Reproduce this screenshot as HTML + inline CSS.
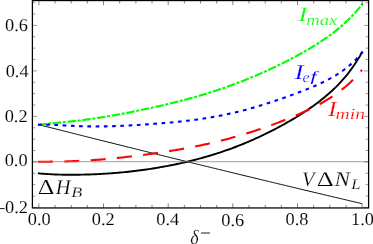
<!DOCTYPE html>
<html><head><meta charset="utf-8"><style>
html,body{margin:0;padding:0;background:#fff;overflow:hidden;}
svg{display:block;will-change:transform;}
text{font-family:"Liberation Serif",serif;text-rendering:geometricPrecision;}
</style></head><body>
<svg width="373" height="244" viewBox="0 0 373 244">
<rect width="373" height="244" fill="#fff"/>
<path d="M37.90,173.31 L38.90,173.40 L40.93,173.59 L42.96,173.76 L45.00,173.92 L47.03,174.05 L49.06,174.17 L51.09,174.28 L53.12,174.38 L55.16,174.46 L57.19,174.53 L59.22,174.59 L61.25,174.64 L63.28,174.68 L65.32,174.71 L67.35,174.73 L69.38,174.75 L71.41,174.75 L73.45,174.75 L75.48,174.74 L77.51,174.72 L79.54,174.69 L81.57,174.66 L83.61,174.62 L85.64,174.57 L87.67,174.51 L89.70,174.44 L91.73,174.37 L93.77,174.29 L95.80,174.20 L97.83,174.11 L99.86,174.01 L101.89,173.90 L103.93,173.78 L105.96,173.65 L107.99,173.52 L110.02,173.38 L112.05,173.23 L114.09,173.07 L116.12,172.91 L118.15,172.73 L120.18,172.55 L122.22,172.36 L124.25,172.17 L126.28,171.96 L128.31,171.75 L130.34,171.52 L132.38,171.29 L134.41,171.06 L136.44,170.81 L138.47,170.55 L140.50,170.29 L142.54,170.02 L144.57,169.74 L146.60,169.45 L148.63,169.15 L150.66,168.84 L152.70,168.53 L154.73,168.20 L156.76,167.87 L158.79,167.52 L160.82,167.17 L162.86,166.81 L164.89,166.44 L166.92,166.06 L168.95,165.68 L170.98,165.28 L173.02,164.87 L175.05,164.45 L177.08,164.03 L179.11,163.59 L181.15,163.14 L183.18,162.69 L185.21,162.22 L187.24,161.74 L189.27,161.25 L191.31,160.75 L193.34,160.24 L195.37,159.72 L197.40,159.19 L199.43,158.64 L201.47,158.09 L203.50,157.52 L205.53,156.94 L207.56,156.35 L209.59,155.75 L211.63,155.13 L213.66,154.51 L215.69,153.87 L217.72,153.21 L219.75,152.55 L221.79,151.87 L223.82,151.18 L225.85,150.47 L227.88,149.75 L229.92,149.02 L231.95,148.27 L233.98,147.51 L236.01,146.74 L238.04,145.95 L240.08,145.15 L242.11,144.33 L244.14,143.50 L246.17,142.66 L248.20,141.80 L250.24,140.93 L252.27,140.04 L254.30,139.14 L256.33,138.23 L258.36,137.30 L260.40,136.35 L262.43,135.39 L264.46,134.42 L266.49,133.43 L268.52,132.43 L270.56,131.41 L272.59,130.38 L274.62,129.33 L276.65,128.26 L278.68,127.18 L280.72,126.09 L282.75,124.98 L284.78,123.85 L286.81,122.70 L288.85,121.54 L290.88,120.36 L292.91,119.16 L294.94,117.94 L296.97,116.70 L299.01,115.45 L301.04,114.17 L303.07,112.86 L305.10,111.53 L307.13,110.18 L309.17,108.80 L311.20,107.39 L313.23,105.95 L315.26,104.48 L317.29,102.97 L319.33,101.43 L321.36,99.85 L323.39,98.22 L325.42,96.54 L327.45,94.82 L329.49,93.04 L331.52,91.21 L333.55,89.31 L335.58,87.34 L337.62,85.30 L339.65,83.18 L341.68,80.98 L343.71,78.68 L345.74,76.29 L347.78,73.79 L349.81,71.17 L351.84,68.43 L353.87,65.56 L355.90,62.54 L357.94,59.37 L359.97,56.03 L362.00,52.51 L362.50,51.64" fill="none" stroke="#000" stroke-width="1.9"/>
<path d="M38.90,124.70 L40.93,125.22 L42.96,125.73 L44.99,126.25 L47.02,126.76 L49.05,127.27 L51.08,127.79 L53.12,128.30 L55.15,128.81 L57.18,129.33 L59.21,129.84 L61.24,130.35 L63.27,130.87 L65.30,131.38 L67.33,131.89 L69.36,132.40 L71.39,132.91 L73.42,133.42 L75.45,133.94 L77.49,134.45 L79.52,134.96 L81.55,135.47 L83.58,135.98 L85.61,136.49 L87.64,137.00 L89.67,137.51 L91.70,138.02 L93.73,138.52 L95.76,139.03 L97.79,139.54 L99.82,140.05 L101.86,140.56 L103.89,141.07 L105.92,141.57 L107.95,142.08 L109.98,142.59 L112.01,143.09 L114.04,143.60 L116.07,144.11 L118.10,144.61 L120.13,145.12 L122.16,145.62 L124.19,146.13 L126.23,146.63 L128.26,147.14 L130.29,147.64 L132.32,148.15 L134.35,148.65 L136.38,149.16 L138.41,149.66 L140.44,150.16 L142.47,150.67 L144.50,151.17 L146.53,151.67 L148.56,152.17 L150.59,152.68 L152.63,153.18 L154.66,153.68 L156.69,154.18 L158.72,154.68 L160.75,155.18 L162.78,155.68 L164.81,156.18 L166.84,156.69 L168.87,157.19 L170.90,157.69 L172.93,158.18 L174.96,158.68 L177.00,159.18 L179.03,159.68 L181.06,160.18 L183.09,160.68 L185.12,161.18 L187.15,161.68 L189.18,162.17 L191.21,162.67 L193.24,163.17 L195.27,163.66 L197.30,164.16 L199.33,164.66 L201.37,165.15 L203.40,165.65 L205.43,166.15 L207.46,166.64 L209.49,167.14 L211.52,167.63 L213.55,168.13 L215.58,168.62 L217.61,169.12 L219.64,169.61 L221.67,170.10 L223.70,170.60 L225.74,171.09 L227.77,171.58 L229.80,172.08 L231.83,172.57 L233.86,173.06 L235.89,173.55 L237.92,174.05 L239.95,174.54 L241.98,175.03 L244.01,175.52 L246.04,176.01 L248.07,176.50 L250.11,176.99 L252.14,177.48 L254.17,177.97 L256.20,178.46 L258.23,178.95 L260.26,179.44 L262.29,179.93 L264.32,180.42 L266.35,180.91 L268.38,181.40 L270.41,181.88 L272.44,182.37 L274.47,182.86 L276.51,183.35 L278.54,183.83 L280.57,184.32 L282.60,184.81 L284.63,185.29 L286.66,185.78 L288.69,186.27 L290.72,186.75 L292.75,187.24 L294.78,187.72 L296.81,188.21 L298.84,188.69 L300.88,189.18 L302.91,189.66 L304.94,190.15 L306.97,190.63 L309.00,191.11 L311.03,191.60 L313.06,192.08 L315.09,192.56 L317.12,193.05 L319.15,193.53 L321.18,194.01 L323.21,194.49 L325.25,194.97 L327.28,195.46 L329.31,195.94 L331.34,196.42 L333.37,196.90 L335.40,197.38 L337.43,197.86 L339.46,198.34 L341.49,198.82 L343.52,199.30 L345.55,199.78 L347.58,200.26 L349.62,200.74 L351.65,201.21 L353.68,201.69 L355.71,202.17 L357.74,202.65 L359.77,203.13 L361.80,203.60" fill="none" stroke="#000" stroke-width="0.95"/>
<path d="M37.91,124.82 L38.90,124.70 L40.93,124.46 L42.96,124.23 L45.00,124.01 L47.03,123.80 L49.06,123.60 L51.09,123.40 L53.12,123.20 L55.16,123.01 L57.19,122.81 L59.22,122.61 L61.25,122.42 L63.28,122.21 L65.32,122.01 L67.35,121.80 L69.38,121.59 L71.41,121.37 L73.45,121.15 L75.48,120.92 L77.51,120.68 L79.54,120.44 L81.57,120.18 L83.61,119.93 L85.64,119.66 L87.67,119.39 L89.70,119.11 L91.73,118.83 L93.77,118.54 L95.80,118.24 L97.83,117.93 L99.86,117.62 L101.89,117.30 L103.93,116.97 L105.96,116.64 L107.99,116.30 L110.02,115.96 L112.05,115.60 L114.09,115.25 L116.12,114.89 L118.15,114.52 L120.18,114.14 L122.22,113.77 L124.25,113.38 L126.28,112.99 L128.31,112.60 L130.34,112.20 L132.38,111.80 L134.41,111.39 L136.44,110.98 L138.47,110.57 L140.50,110.15 L142.54,109.72 L144.57,109.29 L146.60,108.86 L148.63,108.42 L150.66,107.98 L152.70,107.53 L154.73,107.08 L156.76,106.62 L158.79,106.16 L160.82,105.70 L162.86,105.23 L164.89,104.75 L166.92,104.27 L168.95,103.78 L170.98,103.29 L173.02,102.79 L175.05,102.29 L177.08,101.78 L179.11,101.26 L181.15,100.74 L183.18,100.21 L185.21,99.68 L187.24,99.14 L189.27,98.59 L191.31,98.03 L193.34,97.47 L195.37,96.89 L197.40,96.31 L199.43,95.73 L201.47,95.13 L203.50,94.52 L205.53,93.91 L207.56,93.29 L209.59,92.66 L211.63,92.01 L213.66,91.36 L215.69,90.70 L217.72,90.03 L219.75,89.36 L221.79,88.67 L223.82,87.97 L225.85,87.26 L227.88,86.54 L229.92,85.81 L231.95,85.07 L233.98,84.32 L236.01,83.56 L238.04,82.78 L240.08,82.00 L242.11,81.21 L244.14,80.41 L246.17,79.59 L248.20,78.77 L250.24,77.93 L252.27,77.09 L254.30,76.23 L256.33,75.36 L258.36,74.48 L260.40,73.60 L262.43,72.70 L264.46,71.79 L266.49,70.87 L268.52,69.94 L270.56,69.00 L272.59,68.05 L274.62,67.08 L276.65,66.11 L278.68,65.13 L280.72,64.13 L282.75,63.12 L284.78,62.10 L286.81,61.07 L288.85,60.03 L290.88,58.98 L292.91,57.91 L294.94,56.83 L296.97,55.74 L299.01,54.63 L301.04,53.50 L303.07,52.36 L305.10,51.21 L307.13,50.03 L309.17,48.84 L311.20,47.63 L313.23,46.39 L315.26,45.14 L317.29,43.86 L319.33,42.56 L321.36,41.22 L323.39,39.86 L325.42,38.47 L327.45,37.05 L329.49,35.58 L331.52,34.08 L333.55,32.54 L335.58,30.96 L337.62,29.33 L339.65,27.64 L341.68,25.90 L343.71,24.11 L345.74,22.25 L347.78,20.32 L349.81,18.32 L351.84,16.24 L353.87,14.08 L355.90,11.83 L357.94,9.49 L359.97,7.05 L362.00,4.50 L362.62,3.72" fill="none" stroke="#00ff00" stroke-width="2.1" stroke-dasharray="8.5 1.65 3.05 1.67"/>
<path d="M37.90,124.73 L38.90,124.70 L40.93,124.65 L42.96,124.63 L45.00,124.63 L47.03,124.66 L49.06,124.71 L51.09,124.78 L53.12,124.86 L55.16,124.95 L57.19,125.05 L59.22,125.15 L61.25,125.26 L63.28,125.37 L65.32,125.48 L67.35,125.59 L69.38,125.69 L71.41,125.79 L73.45,125.88 L75.48,125.97 L77.51,126.06 L79.54,126.13 L81.57,126.20 L83.61,126.26 L85.64,126.31 L87.67,126.35 L89.70,126.38 L91.73,126.41 L93.77,126.42 L95.80,126.43 L97.83,126.42 L99.86,126.41 L101.89,126.39 L103.93,126.37 L105.96,126.33 L107.99,126.29 L110.02,126.24 L112.05,126.18 L114.09,126.12 L116.12,126.05 L118.15,125.97 L120.18,125.89 L122.22,125.80 L124.25,125.71 L126.28,125.61 L128.31,125.51 L130.34,125.40 L132.38,125.29 L134.41,125.17 L136.44,125.05 L138.47,124.93 L140.50,124.80 L142.54,124.67 L144.57,124.54 L146.60,124.40 L148.63,124.26 L150.66,124.11 L152.70,123.96 L154.73,123.81 L156.76,123.65 L158.79,123.49 L160.82,123.33 L162.86,123.16 L164.89,122.99 L166.92,122.81 L168.95,122.63 L170.98,122.44 L173.02,122.25 L175.05,122.06 L177.08,121.85 L179.11,121.64 L181.15,121.43 L183.18,121.21 L185.21,120.98 L187.24,120.74 L189.27,120.50 L191.31,120.25 L193.34,119.99 L195.37,119.72 L197.40,119.45 L199.43,119.16 L201.47,118.87 L203.50,118.57 L205.53,118.25 L207.56,117.93 L209.59,117.59 L211.63,117.25 L213.66,116.89 L215.69,116.53 L217.72,116.15 L219.75,115.76 L221.79,115.36 L223.82,114.95 L225.85,114.53 L227.88,114.09 L229.92,113.64 L231.95,113.18 L233.98,112.71 L236.01,112.23 L238.04,111.74 L240.08,111.23 L242.11,110.72 L244.14,110.19 L246.17,109.65 L248.20,109.10 L250.24,108.54 L252.27,107.96 L254.30,107.38 L256.33,106.79 L258.36,106.19 L260.40,105.57 L262.43,104.95 L264.46,104.32 L266.49,103.68 L268.52,103.03 L270.56,102.37 L272.59,101.71 L274.62,101.03 L276.65,100.35 L278.68,99.66 L280.72,98.96 L282.75,98.26 L284.78,97.55 L286.81,96.83 L288.85,96.10 L290.88,95.36 L292.91,94.62 L294.94,93.87 L296.97,93.11 L299.01,92.34 L301.04,91.56 L303.07,90.77 L305.10,89.97 L307.13,89.15 L309.17,88.32 L311.20,87.48 L313.23,86.62 L315.26,85.74 L317.29,84.85 L319.33,83.93 L321.36,82.98 L323.39,82.01 L325.42,81.01 L327.45,79.97 L329.49,78.90 L331.52,77.78 L333.55,76.63 L335.58,75.42 L337.62,74.16 L339.65,72.84 L341.68,71.46 L343.71,70.00 L345.74,68.47 L347.78,66.85 L349.81,65.15 L351.84,63.34 L353.87,61.43 L355.90,59.40 L357.94,57.24 L359.97,54.95 L362.00,52.51 L362.64,51.74" fill="none" stroke="#0000ff" stroke-width="2.1" stroke-dasharray="3.7 4.55"/>
<path d="M37.90,161.82 L38.90,161.80 L40.93,161.77 L42.96,161.75 L44.98,161.72 L47.01,161.70 L49.04,161.68 L51.07,161.66 L53.10,161.64 L55.12,161.61 L57.15,161.58 L59.18,161.55 L61.21,161.51 L63.24,161.47 L65.26,161.43 L67.29,161.37 L69.32,161.31 L71.35,161.25 L73.38,161.17 L75.40,161.09 L77.43,161.01 L79.46,160.91 L81.49,160.81 L83.52,160.71 L85.54,160.59 L87.57,160.47 L89.60,160.34 L91.63,160.21 L93.66,160.07 L95.68,159.92 L97.71,159.76 L99.74,159.60 L101.77,159.43 L103.80,159.26 L105.82,159.08 L107.85,158.90 L109.88,158.71 L111.91,158.51 L113.94,158.31 L115.96,158.11 L117.99,157.90 L120.02,157.68 L122.05,157.46 L124.08,157.24 L126.10,157.01 L128.13,156.78 L130.16,156.54 L132.19,156.30 L134.22,156.05 L136.24,155.80 L138.27,155.55 L140.30,155.29 L142.33,155.03 L144.36,154.76 L146.38,154.49 L148.41,154.21 L150.44,153.93 L152.47,153.65 L154.50,153.36 L156.52,153.07 L158.55,152.77 L160.58,152.47 L162.61,152.17 L164.64,151.85 L166.66,151.54 L168.69,151.22 L170.72,150.89 L172.75,150.56 L174.78,150.22 L176.80,149.88 L178.83,149.53 L180.86,149.17 L182.89,148.81 L184.92,148.44 L186.94,148.07 L188.97,147.68 L191.00,147.30 L193.03,146.90 L195.06,146.50 L197.08,146.09 L199.11,145.67 L201.14,145.24 L203.17,144.81 L205.19,144.37 L207.22,143.92 L209.25,143.46 L211.28,143.00 L213.31,142.52 L215.33,142.04 L217.36,141.55 L219.39,141.05 L221.42,140.54 L223.45,140.02 L225.47,139.49 L227.50,138.96 L229.53,138.41 L231.56,137.86 L233.59,137.30 L235.61,136.72 L237.64,136.14 L239.67,135.55 L241.70,134.95 L243.73,134.34 L245.75,133.73 L247.78,133.10 L249.81,132.46 L251.84,131.82 L253.87,131.17 L255.89,130.50 L257.92,129.83 L259.95,129.15 L261.98,128.46 L264.01,127.76 L266.03,127.05 L268.06,126.34 L270.09,125.61 L272.12,124.88 L274.15,124.13 L276.17,123.38 L278.20,122.61 L280.23,121.84 L282.26,121.05 L284.29,120.26 L286.31,119.45 L288.34,118.64 L290.37,117.81 L292.40,116.97 L294.43,116.11 L296.45,115.25 L298.48,114.37 L300.51,113.47 L302.54,112.56 L304.57,111.63 L306.59,110.69 L308.62,109.72 L310.65,108.74 L312.68,107.73 L314.71,106.70 L316.73,105.65 L318.76,104.57 L320.79,103.46 L322.82,102.32 L324.85,101.15 L326.87,99.94 L328.90,98.70 L330.93,97.41 L332.96,96.08 L334.99,94.71 L337.01,93.28 L339.04,91.80 L341.07,90.26 L343.10,88.67 L345.13,87.00 L347.15,85.26 L349.18,83.45 L351.21,81.55 L353.24,79.57 L355.27,77.50 L357.29,75.33 L359.32,73.05 L361.35,70.66 L362.00,69.89" fill="none" stroke="#ff0000" stroke-width="2.1" stroke-dasharray="15 11.38"/>
<line x1="32.4" y1="161.6" x2="368.6" y2="161.6" stroke="#808080" stroke-opacity="0.6" stroke-width="1.4"/>
<g stroke="#555" stroke-width="0.6">
<line x1="32.4" y1="207.40" x2="37.0" y2="207.40"/><line x1="368.6" y1="207.40" x2="364.0" y2="207.40"/><line x1="32.4" y1="196.03" x2="35.4" y2="196.03"/><line x1="368.6" y1="196.03" x2="365.6" y2="196.03"/><line x1="32.4" y1="184.65" x2="35.4" y2="184.65"/><line x1="368.6" y1="184.65" x2="365.6" y2="184.65"/><line x1="32.4" y1="173.28" x2="35.4" y2="173.28"/><line x1="368.6" y1="173.28" x2="365.6" y2="173.28"/><line x1="32.4" y1="161.90" x2="37.0" y2="161.90"/><line x1="368.6" y1="161.90" x2="364.0" y2="161.90"/><line x1="32.4" y1="150.53" x2="35.4" y2="150.53"/><line x1="368.6" y1="150.53" x2="365.6" y2="150.53"/><line x1="32.4" y1="139.15" x2="35.4" y2="139.15"/><line x1="368.6" y1="139.15" x2="365.6" y2="139.15"/><line x1="32.4" y1="127.78" x2="35.4" y2="127.78"/><line x1="368.6" y1="127.78" x2="365.6" y2="127.78"/><line x1="32.4" y1="116.40" x2="37.0" y2="116.40"/><line x1="368.6" y1="116.40" x2="364.0" y2="116.40"/><line x1="32.4" y1="105.03" x2="35.4" y2="105.03"/><line x1="368.6" y1="105.03" x2="365.6" y2="105.03"/><line x1="32.4" y1="93.65" x2="35.4" y2="93.65"/><line x1="368.6" y1="93.65" x2="365.6" y2="93.65"/><line x1="32.4" y1="82.27" x2="35.4" y2="82.27"/><line x1="368.6" y1="82.27" x2="365.6" y2="82.27"/><line x1="32.4" y1="70.90" x2="37.0" y2="70.90"/><line x1="368.6" y1="70.90" x2="364.0" y2="70.90"/><line x1="32.4" y1="59.53" x2="35.4" y2="59.53"/><line x1="368.6" y1="59.53" x2="365.6" y2="59.53"/><line x1="32.4" y1="48.15" x2="35.4" y2="48.15"/><line x1="368.6" y1="48.15" x2="365.6" y2="48.15"/><line x1="32.4" y1="36.77" x2="35.4" y2="36.77"/><line x1="368.6" y1="36.77" x2="365.6" y2="36.77"/><line x1="32.4" y1="25.40" x2="37.0" y2="25.40"/><line x1="368.6" y1="25.40" x2="364.0" y2="25.40"/><line x1="32.4" y1="14.03" x2="35.4" y2="14.03"/><line x1="368.6" y1="14.03" x2="365.6" y2="14.03"/><line x1="32.4" y1="2.65" x2="35.4" y2="2.65"/><line x1="368.6" y1="2.65" x2="365.6" y2="2.65"/>
</g>
<g stroke="#333" stroke-width="0.6">
<line x1="38.87" y1="207.95" x2="38.87" y2="203.35"/><line x1="38.87" y1="0.55" x2="38.87" y2="5.15"/><line x1="55.03" y1="207.95" x2="55.03" y2="204.95"/><line x1="55.03" y1="0.55" x2="55.03" y2="3.55"/><line x1="71.20" y1="207.95" x2="71.20" y2="204.95"/><line x1="71.20" y1="0.55" x2="71.20" y2="3.55"/><line x1="87.37" y1="207.95" x2="87.37" y2="204.95"/><line x1="87.37" y1="0.55" x2="87.37" y2="3.55"/><line x1="103.53" y1="207.95" x2="103.53" y2="203.35"/><line x1="103.53" y1="0.55" x2="103.53" y2="5.15"/><line x1="119.69" y1="207.95" x2="119.69" y2="204.95"/><line x1="119.69" y1="0.55" x2="119.69" y2="3.55"/><line x1="135.86" y1="207.95" x2="135.86" y2="204.95"/><line x1="135.86" y1="0.55" x2="135.86" y2="3.55"/><line x1="152.03" y1="207.95" x2="152.03" y2="204.95"/><line x1="152.03" y1="0.55" x2="152.03" y2="3.55"/><line x1="168.19" y1="207.95" x2="168.19" y2="203.35"/><line x1="168.19" y1="0.55" x2="168.19" y2="5.15"/><line x1="184.36" y1="207.95" x2="184.36" y2="204.95"/><line x1="184.36" y1="0.55" x2="184.36" y2="3.55"/><line x1="200.52" y1="207.95" x2="200.52" y2="204.95"/><line x1="200.52" y1="0.55" x2="200.52" y2="3.55"/><line x1="216.69" y1="207.95" x2="216.69" y2="204.95"/><line x1="216.69" y1="0.55" x2="216.69" y2="3.55"/><line x1="232.85" y1="207.95" x2="232.85" y2="203.35"/><line x1="232.85" y1="0.55" x2="232.85" y2="5.15"/><line x1="249.02" y1="207.95" x2="249.02" y2="204.95"/><line x1="249.02" y1="0.55" x2="249.02" y2="3.55"/><line x1="265.18" y1="207.95" x2="265.18" y2="204.95"/><line x1="265.18" y1="0.55" x2="265.18" y2="3.55"/><line x1="281.35" y1="207.95" x2="281.35" y2="204.95"/><line x1="281.35" y1="0.55" x2="281.35" y2="3.55"/><line x1="297.51" y1="207.95" x2="297.51" y2="203.35"/><line x1="297.51" y1="0.55" x2="297.51" y2="5.15"/><line x1="313.68" y1="207.95" x2="313.68" y2="204.95"/><line x1="313.68" y1="0.55" x2="313.68" y2="3.55"/><line x1="329.84" y1="207.95" x2="329.84" y2="204.95"/><line x1="329.84" y1="0.55" x2="329.84" y2="3.55"/><line x1="346.01" y1="207.95" x2="346.01" y2="204.95"/><line x1="346.01" y1="0.55" x2="346.01" y2="3.55"/><line x1="362.17" y1="207.95" x2="362.17" y2="203.35"/><line x1="362.17" y1="0.55" x2="362.17" y2="5.15"/>
</g>
<rect x="32.4" y="0.55" width="336.20000000000005" height="207.39999999999998" fill="none" stroke="#000" stroke-width="1.25"/>
<g font-size="18.0" fill="#000" stroke="#fff" stroke-width="0.1">
<g text-anchor="end"><text transform="translate(28.00,30.60) scale(1.02,1)" text-anchor="end">0.6</text><text transform="translate(28.60,76.80) scale(1.02,1)" text-anchor="end">0.4</text><text transform="translate(27.60,121.50) scale(1.02,1)" text-anchor="end">0.2</text><text transform="translate(27.60,166.00) scale(1.02,1)" text-anchor="end">0.0</text><text transform="translate(28.00,213.00) scale(1.02,1)" text-anchor="end">0.2</text></g>
<g text-anchor="middle"><text transform="translate(39.17,224.50) scale(1.02,1)" text-anchor="middle">0.0</text><text transform="translate(103.23,224.80) scale(1.02,1)" text-anchor="middle">0.2</text><text transform="translate(167.69,224.80) scale(1.02,1)" text-anchor="middle">0.4</text><text transform="translate(232.75,226.00) scale(1.02,1)" text-anchor="middle">0.6</text><text transform="translate(297.01,225.00) scale(1.02,1)" text-anchor="middle">0.8</text><text transform="translate(362.47,224.60) scale(1.02,1)" text-anchor="middle">1.0</text></g>
</g>
<line x1="-2" y1="208.6" x2="4.6" y2="208.6" stroke="#000" stroke-width="0.9"/>
<line x1="200.95" y1="233" x2="210" y2="233" stroke="#333" stroke-width="1.1"/>
<text transform="translate(298.40,21.00) scale(1.301,1)" font-size="20.15" font-style="italic" fill="#00ff00" stroke="#fff" stroke-width="0.22">I</text>
<text transform="translate(306.25,24.60) scale(1.219,1)" font-size="15.31" font-style="italic" fill="#00ff00" stroke="#fff" stroke-width="0.22">max</text>
<text transform="translate(294.40,78.70) scale(1.292,1)" font-size="21.23" font-style="italic" fill="#0000ff" stroke="#fff" stroke-width="0.22">I</text>
<text transform="translate(302.62,81.55) scale(1.075,1)" font-size="14.79" font-style="italic" fill="#0000ff" stroke="#fff" stroke-width="0.22">e</text>
<text transform="translate(310.48,81.26) scale(1.539,1)" font-size="14.02" font-style="italic" fill="#0000ff">f</text>
<text transform="translate(328.00,116.40) scale(1.223,1)" font-size="21.00" font-style="italic" fill="#ff0000" stroke="#fff" stroke-width="0.22">I</text>
<text transform="translate(335.51,119.40) scale(1.264,1)" font-size="15.54" font-style="italic" fill="#ff0000" stroke="#fff" stroke-width="0.22">min</text>
<text transform="translate(37.66,193.70) scale(1.224,1)" font-size="21.21" font-style="normal" fill="#000" stroke="#fff" stroke-width="0.22">Δ</text>
<text transform="translate(55.71,193.60) scale(0.973,1)" font-size="21.08" font-style="italic" fill="#000" stroke="#fff" stroke-width="0.22">H</text>
<text transform="translate(71.32,196.70) scale(1.252,1)" font-size="14.46" font-style="italic" fill="#000" stroke="#fff" stroke-width="0.22">B</text>
<text transform="translate(301.88,185.79) scale(0.986,1)" font-size="20.60" font-style="italic" fill="#000" stroke="#fff" stroke-width="0.22">V</text>
<text transform="translate(316.84,186.00) scale(1.267,1)" font-size="20.91" font-style="normal" fill="#000" stroke="#fff" stroke-width="0.22">Δ</text>
<text transform="translate(334.43,186.00) scale(1.115,1)" font-size="20.92" font-style="italic" fill="#000" stroke="#fff" stroke-width="0.22">N</text>
<text transform="translate(351.17,188.80) scale(1.157,1)" font-size="14.46" font-style="italic" fill="#000" stroke="#fff" stroke-width="0.22">L</text>
<text transform="translate(190.26,243.50) scale(0.881,1)" font-size="20.42" font-style="italic" fill="#000" stroke="#fff" stroke-width="0.22">δ</text>
</svg>
</body></html>
